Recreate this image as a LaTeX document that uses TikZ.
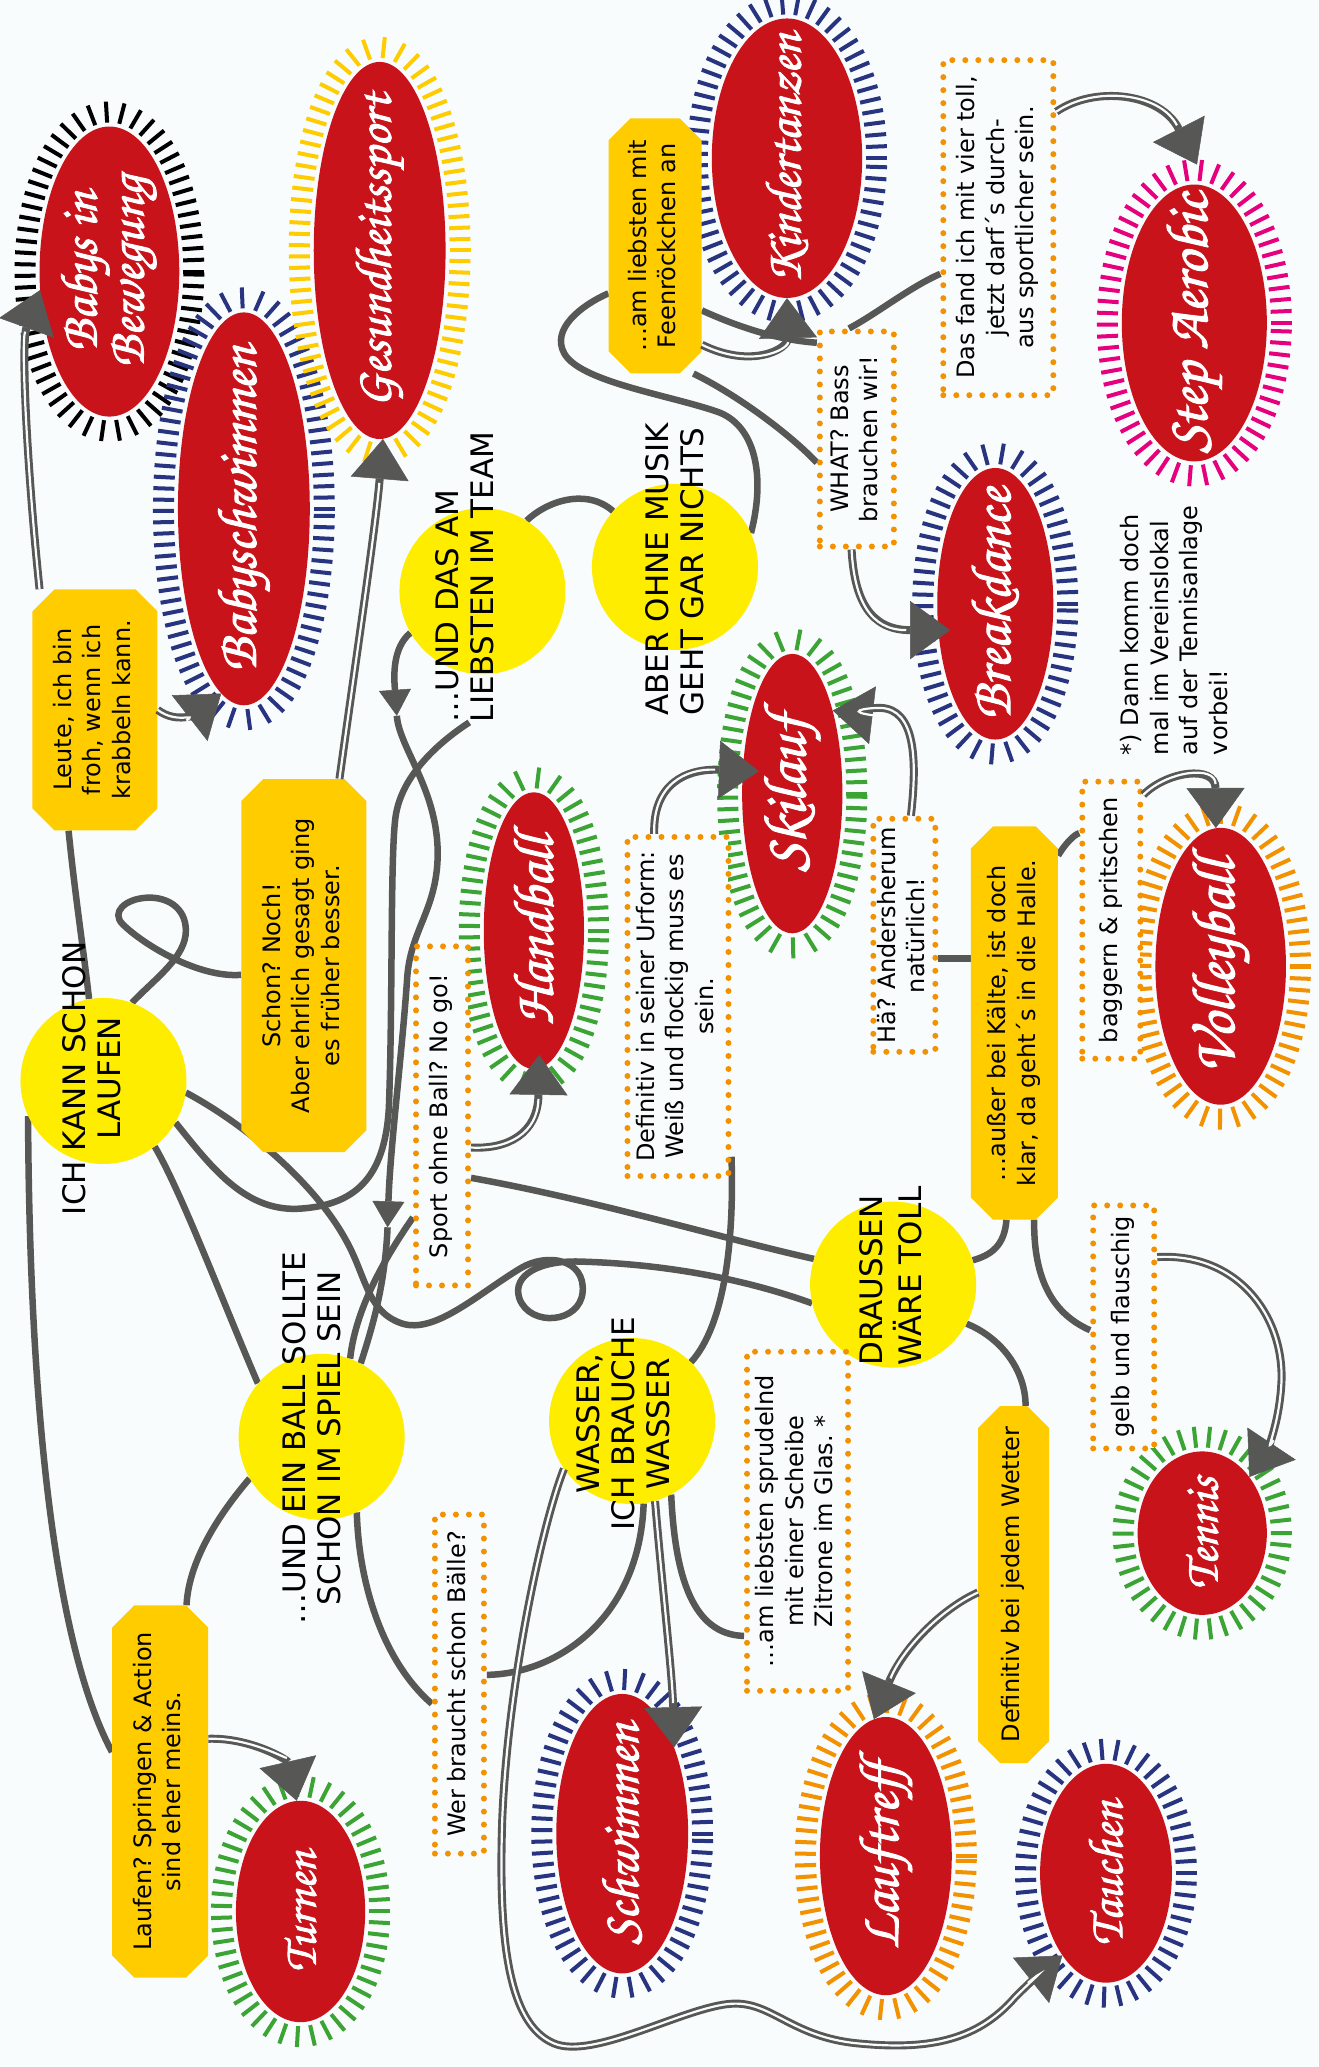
\documentclass[tikz,border=0pt]{standalone}
\usepackage{fontspec}
\setmainfont{DejaVu Sans}
\newfontfamily\scriptfnt[FakeBold=1.8]{texgyrechorus-mediumitalic.otf}
\usepackage{graphicx}
\usetikzlibrary{shapes.geometric,shapes.misc,decorations.markings,arrows.meta,calc}
\pgfdeclarelayer{lines}
\pgfsetlayers{lines,main}
\frenchspacing

\definecolor{bg}{RGB}{248,252,253}
\definecolor{sportred}{RGB}{200,19,27}
\definecolor{spotyellow}{RGB}{255,237,0}
\definecolor{boxgold}{RGB}{255,204,0}
\definecolor{dotorange}{RGB}{243,146,0}
\definecolor{linegray}{RGB}{87,87,86}
\definecolor{ringnavy}{RGB}{40,52,128}
\definecolor{ringgreen}{RGB}{60,164,52}
\definecolor{ringmagenta}{RGB}{230,0,126}

\newcommand{\vtext}[2][c]{\rotatebox{90}{\begin{tabular}{@{}#1@{}}#2\end{tabular}}}

\begin{document}
\begin{tikzpicture}[x=1.318pt, y=-1.318pt,
  sportoval/.style={ellipse, fill=sportred, inner sep=0pt,
    preaction={decorate, decoration={markings,
      mark=between positions 0 and 1 step 11pt with {\draw[#1, line width=4pt] (0pt,-4pt) -- (0pt,-25pt);}}}},
  sportlabel/.style={font=\scriptfnt, text=white, inner sep=0pt},
  spot/.style={circle, fill=spotyellow, minimum size=166pt, inner sep=0pt},
  spottext/.style={font=\fontsize{31}{35}\selectfont, inner sep=0pt},
  talk/.style={chamfered rectangle, chamfered rectangle xsep=11pt, chamfered rectangle ysep=11pt, fill=boxgold, inner sep=0pt, font=\fontsize{24}{29.5}\selectfont},
  dotbox/.style={rectangle, draw=dotorange, line width=6pt, dash pattern=on 0pt off 13pt, line cap=round, fill=bg, inner sep=0pt, font=\fontsize{24}{29.5}\selectfont},
  link/.style={draw=linegray, line width=6.5pt},
  midtip/.style={-{Triangle[length=26pt,width=32pt,line width=0.5pt]}},
  dbl/.style={preaction={draw=linegray, line width=8pt, shorten >=0pt, -{Triangle[length=40pt,width=58pt,line width=0.5pt]}}, draw=bg, line width=2.2pt, shorten >=44pt},
]
\useasboundingbox (0,0) rectangle (1000,1568);

% Sport ellipses
\node[sportoval=black, minimum width=139.7pt, minimum height=290pt] (babysb) at (83,206) {};
\node[sportoval=ringnavy, minimum width=131.8pt, minimum height=392.8pt] (babysw) at (185,386) {};
\node[sportoval=boxgold, minimum width=131.8pt, minimum height=377pt] (gesund) at (288,190) {};
\node[sportoval=ringnavy, minimum width=150.3pt, minimum height=279.4pt] (kinder) at (597,120) {};
\node[sportoval=ringmagenta, minimum width=145pt, minimum height=276.8pt] (step) at (906,245) {};
\node[sportoval=ringnavy, minimum width=116pt, minimum height=271.5pt] (breakd) at (755,458) {};
\node[sportoval=ringgreen, minimum width=100.2pt, minimum height=279.4pt] (ski) at (601,602) {};
\node[sportoval=ringgreen, minimum width=100.2pt, minimum height=276.8pt] (handb) at (405,706) {};
\node[sportoval=dotorange, minimum width=130.5pt, minimum height=276.8pt] (volley) at (926,733) {};
\node[sportoval=ringgreen, minimum width=129.2pt, minimum height=163.4pt] (tennis) at (912,1163) {};
\node[sportoval=ringgreen, minimum width=129.2pt, minimum height=221.4pt] (turnen) at (228,1450) {};
\node[sportoval=ringnavy, minimum width=131.8pt, minimum height=279.4pt] (schwimm) at (472,1391) {};
\node[sportoval=dotorange, minimum width=131.8pt, minimum height=278.1pt] (lauf) at (672,1408) {};
\node[sportoval=ringnavy, minimum width=131.8pt, minimum height=218.8pt] (tauchen) at (839,1421) {};

% Sport names
\node[sportlabel] (babysbT) at (babysb) {\rotatebox{90}{\resizebox{192pt}{!}{\renewcommand{\arraystretch}{0.75}\begin{tabular}{@{}c@{}}Babys in\\Bewegung\end{tabular}}}};
\node[sportlabel] (babyswT) at (babysw) {\rotatebox{90}{\resizebox{326pt}{!}{Babyschwimmen}}};
\node[sportlabel] (gesundT) at (gesund) {\rotatebox{90}{\resizebox{313pt}{!}{Gesundheitssport}}};
\node[sportlabel] (kinderT) at (kinder) {\rotatebox{90}{\resizebox{250pt}{!}{Kindertanzen}}};
\node[sportlabel] (stepT) at (step) {\rotatebox{90}{\resizebox{260pt}{!}{Step Aerobic}}};
\node[sportlabel] (breakdT) at (breakd) {\rotatebox{90}{\resizebox{232pt}{!}{Breakdance}}};
\node[sportlabel] (skiT) at (ski) {\rotatebox{90}{\resizebox{156pt}{!}{Skilauf}}};
\node[sportlabel] (handbT) at (handb) {\rotatebox{90}{\resizebox{189pt}{!}{Handball}}};
\node[sportlabel] (volleyT) at (volley) {\rotatebox{90}{\resizebox{214pt}{!}{Volleyball}}};
\node[sportlabel] (tennisT) at (tennis) {\rotatebox{90}{\resizebox{112pt}{!}{Tennis}}};
\node[sportlabel] (turnenT) at (turnen) {\rotatebox{90}{\resizebox{121pt}{!}{Turnen}}};
\node[sportlabel] (schwimmT) at (schwimm) {\rotatebox{90}{\resizebox{221pt}{!}{Schwimmen}}};
\node[sportlabel] (laufT) at (lauf) {\rotatebox{90}{\resizebox{186pt}{!}{Lauftreff}}};
\node[sportlabel] (tauchenT) at (tauchen) {\rotatebox{90}{\resizebox{145pt}{!}{Tauchen}}};

% Yellow spots
\node[spot] (ich) at (78.5,820) {};
\node[spot] (team) at (366,448.5) {};
\node[spot] (musik) at (512,430) {};
\node[spot] (ball) at (244,1090) {};
\node[spot] (wasser) at (479.5,1078) {};
\node[spot] (draussen) at (677.5,974.5) {};
\node[spottext] (ichT) at (72.5,818) {\vtext{ICH KANN SCHON\\LAUFEN}};
\node[spottext, anchor=south] (teamT) at (356,548) {\vtext[l]{…UND DAS AM\\LIEBSTEN IM TEAM}};
\node[spottext, anchor=south] (musikT) at (515,543) {\vtext[l]{ABER OHNE MUSIK\\GEHT GAR NICHTS}};
\node[spottext] (ballT) at (240,1091) {\vtext{…UND EIN BALL SOLLTE\\SCHON IM SPIEL SEIN}};
\node[spottext] (wasserT) at (476,1080) {\vtext{WASSER,\\ICH BRAUCHE\\WASSER}};
\node[spottext, anchor=south] (draussenT) at (679,1036) {\vtext[l]{DRAUSSEN\\WÄRE TOLL}};

% Gold boxes
\node[talk, minimum width=125pt, minimum height=241pt] (leute) at (72,538.5) {\vtext{Leute, ich bin\\froh, wenn ich\\krabbeln kann.}};
\node[talk, minimum width=125pt, minimum height=373pt] (schon) at (230.5,732.5) {\vtext{Schon? Noch!\\Aber ehrlich gesagt ging\\es früher besser.}};
\node[talk, minimum width=93pt, minimum height=255pt] (feen) at (497,186.5) {\vtext{…am liebsten mit\\Feenröckchen an}};
\node[talk, minimum width=87pt, minimum height=393pt] (kaelte) at (769.5,776) {\vtext{…außer bei Kälte, ist doch\\klar, da geht´s in die Halle.}};
\node[talk, minimum width=96pt, minimum height=372pt] (laufen) at (121.5,1359) {\vtext{Laufen? Springen \& Action\\sind eher meins.}};
\node[talk, minimum width=71pt, minimum height=357pt] (wetter) at (769,1202) {\vtext{Definitiv bei jedem Wetter}};

% Dotted boxes
\node[dotbox, minimum width=110pt, minimum height=335pt] (dasfand) at (757.3,172.7) {\vtext{Das fand ich mit vier toll,\\jetzt darf´s durch-\\aus sportlicher sein.}};
\node[dotbox, minimum width=74pt, minimum height=215pt] (what) at (650,333) {\vtext{WHAT? Bass\\brauchen wir!}};
\node[dotbox, minimum width=52pt, minimum height=339pt] (noball) at (335.3,846.5) {\vtext{Sport ohne Ball? No go!}};
\node[dotbox, minimum width=101pt, minimum height=339pt] (urform) at (514.3,763.5) {\vtext{Definitiv in seiner Urform:\\Weiß und flockig muss es\\sein.}};
\node[dotbox, minimum width=62pt, minimum height=233pt] (hae) at (686,709.5) {\vtext{Hä? Andersherum\\natürlich!}};
\node[dotbox, minimum width=58pt, minimum height=277pt] (baggern) at (843,698) {\vtext{baggern \& pritschen}};
\node[dotbox, minimum width=61pt, minimum height=243pt] (gelb) at (852.4,1006.6) {\vtext{gelb und flauschig}};
\node[dotbox, minimum width=101pt, minimum height=339pt] (sprudel) at (605,1154) {\vtext{…am liebsten sprudelnd\\mit einer Scheibe\\Zitrone im Glas. *}};
\node[dotbox, minimum width=49pt, minimum height=339pt] (wer) at (348.5,1277.5) {\vtext{Wer braucht schon Bälle?}};

% Footnote
\node[font=\fontsize{24}{29.5}\selectfont, inner sep=0pt, anchor=south] (note) at (893,573) {\vtext[l]{*) Dann komm doch\\mal im Vereinslokal\\auf der Tennisanlage\\vorbei!}};

\begin{pgfonlayer}{lines}
\fill[bg] (0,0) rectangle (1000,1568);
% From ICH KANN SCHON LAUFEN
\draw[link] ($(leute.south)+(-20,0)$) .. controls (57,680) and (64,725) .. (ich.100);
\draw[link] (ich.70) .. controls (118,742) and (141,726) .. (141,706) .. controls (141,688) and (126,680) .. (111,681) .. controls (95,682) and (84,692) .. (93,701) .. controls (108,716) and (150,742) .. ($(schon.west)+(0,7)$);
\draw[link] (ich.-8) .. controls (190,855) and (240,900) .. (262,940) .. controls (278,968) and (278,995) .. (305,1004) .. controls (330,1012) and (362,982) .. (395,962) .. controls (415,950) and (444,955) .. (442,980) .. controls (440,1004) and (402,1007) .. (394,985) .. controls (388,967) and (410,956) .. (440,957) .. controls (510,959) and (570,972) .. (draussen.193);
\draw[link] (ich.-30) .. controls (160,885) and (185,918) .. (225,917) .. controls (268,915) and (292,895) .. (295,840) .. controls (298,760) and (296,650) .. (300,620) .. controls (304,590) and (330,565) .. (teamT.south);
\draw[link] (ich.-52) .. controls (138,905) and (170,990) .. (ball.140);
\draw[link] (ich.205) .. controls (22,1000) and (32,1230) .. ($(laufen.west)+(0,-30)$);

% From ...UND DAS AM LIEBSTEN IM TEAM
\coordinate (teamA) at (301,543);
\coordinate (teamB) at (294,931);
\draw[link, midtip] (team.210) .. controls (297,492) and (299,515) .. (teamA);
\draw[link, midtip] (teamA) .. controls (303,568) and (333,600) .. (332,650) .. controls (331,690) and (312,705) .. (309,740) .. controls (305,800) and (296,870) .. (teamB);
\draw[link] (teamB) .. controls (292,975) and (283,1005) .. (ball.62);
\draw[link] (team.58) .. controls (415,380) and (445,370) .. (musik.138);

% Music corner
\draw[link] (musik.24) .. controls (580,365) and (575,325) .. (546,313) .. controls (510,300) and (440,290) .. (428,268) .. controls (418,250) and (440,232) .. ($(feen.west)+(0,36)$);
\draw[link] ($(feen.east)+(0,49)$) .. controls (560,248) and (590,258) .. ($(what.west)+(0,-73)$);
\draw[link] ($(feen.south)+(29,0)$) .. controls (560,300) and (600,330) .. ($(what.west)+(0,18)$);
\draw[link] ($(what.north)+(-6,0)$) .. controls (665,238) and (690,218) .. ($(dasfand.west)+(0,35)$);

% DRAUSSEN WAERE TOLL
\draw[link] ($(hae.east)+(0,17.5)$) -- ($(kaelte.west)+(0,-49)$);
\draw[link] ($(kaelte.east)+(0,-127)$) .. controls (808,640) and (815,633) .. ($(baggern.west)+(0,-66)$);
\draw[link] ($(kaelte.south)+(-6,0)$) .. controls (762,945) and (752,952) .. (draussen.17);
\draw[link] ($(kaelte.south)+(15,0)$) .. controls (784,965) and (795,995) .. ($(gelb.west)+(0,2.5)$);
\draw[link] (draussen.-28) .. controls (760,1015) and (778,1040) .. ($(wetter.north)+(9,0)$);
\draw[link] ($(noball.east)+(0,47)$) .. controls (450,910) and (550,940) .. (draussen.162);

% Ball and water
\draw[link] ($(noball.west)+(0,77)$) .. controls (295,950) and (270,990) .. (ball.70);
\draw[link] ($(urform.east)+(0,114)$) .. controls (557,940) and (550,1005) .. (wasser.45);
\draw[link] (ball.210) .. controls (165,1150) and (143,1185) .. ($(laufen.north)+(20,0)$);
\draw[link] (ball.-65) .. controls (272,1200) and (290,1260) .. ($(wer.west)+(0,15)$);
\draw[link] ($(wer.east)+(0,-7)$) .. controls (420,1270) and (485,1230) .. (wasser.-82);
\draw[link] (wasser.-62) .. controls (512,1195) and (525,1240) .. ($(sprudel.west)+(0,87)$);
\end{pgfonlayer}

% Arrows to the sports
\draw[dbl] ($(leute.north)+(-42,0)$) .. controls (20,350) and (16,260) .. (babysb.195);
\draw[dbl] (leute.east) .. controls (135,550) and (150,540) .. (babysw.-97);
\draw[dbl] ($(schon.north)+(27,0)$) .. controls (270,500) and (285,400) .. (gesund.-89);
\draw[dbl] ($(feen.east)+(0,75)$) .. controls (570,280) and (598,265) .. (kinder.-90);
\draw[dbl] ($(dasfand.east)+(0,-88)$) .. controls (830,65) and (880,70) .. ($(step.north)+(2,-15)$);
\draw[dbl] ($(what.south)+(-4,0)$) .. controls (648,455) and (660,478) .. ($(breakd.west)+(10,20)$);
\draw[dbl] ($(urform.north)+(-18,0)$) .. controls (495,595) and (520,583) .. ($(ski.west)+(13,-17)$);
\draw[dbl] ($(hae.north)+(5,0)$) .. controls (696,575) and (694,538) .. (668,537) .. controls (655,537) and (640,540) .. (ski.64);
\draw[dbl] ($(baggern.east)+(0,-95)$) .. controls (885,585) and (922,580) .. (volley.92);
\draw[dbl] ($(noball.east)+(0,24)$) .. controls (385,872) and (408,860) .. ($(handb.south)+(4,-11)$);
\draw[dbl] ($(gelb.east)+(0,-53)$) .. controls (940,950) and (975,1000) .. (972,1050) .. controls (970,1085) and (958,1105) .. (tennis.50);
\draw[dbl] ($(wetter.west)+(0,6)$) .. controls (715,1220) and (685,1250) .. (lauf.95);
\draw[dbl] (wasser.-74) .. controls (502,1200) and (510,1270) .. (schwimm.59);
\draw[dbl] (wasser.215) .. controls (410,1160) and (385,1280) .. (381,1380) .. controls (378,1470) and (385,1535) .. (420,1550) .. controls (450,1563) and (520,1522) .. (555,1520) .. controls (585,1518) and (600,1545) .. (650,1550) .. controls (700,1555) and (740,1550) .. (770,1515) .. controls (785,1500) and (795,1492) .. (tauchen.-118);
\draw[dbl] ($(laufen.east)+(0,-40)$) .. controls (190,1318) and (218,1335) .. (turnen.92);

\end{tikzpicture}
\end{document}
